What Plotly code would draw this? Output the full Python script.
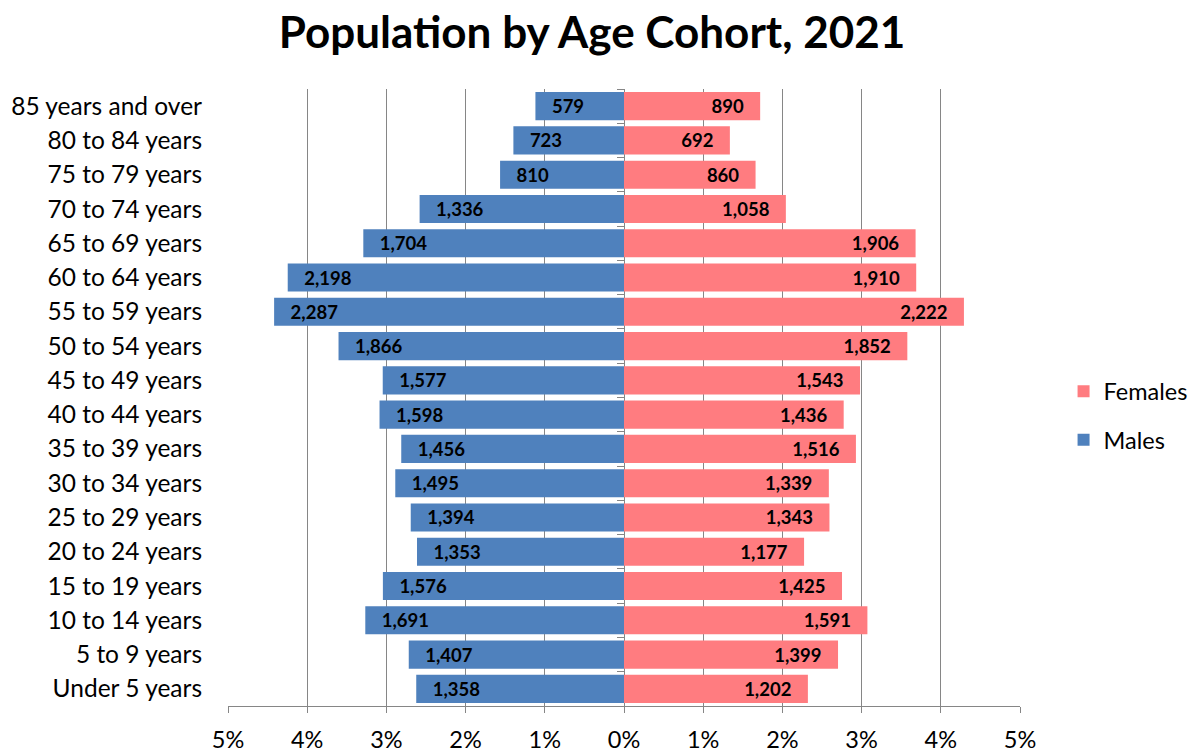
import plotly.graph_objects as go

age_groups = ["Under 5 years", "5 to 9 years", "10 to 14 years", "15 to 19 years",
              "20 to 24 years", "25 to 29 years", "30 to 34 years", "35 to 39 years",
              "40 to 44 years", "45 to 49 years", "50 to 54 years", "55 to 59 years",
              "60 to 64 years", "65 to 69 years", "70 to 74 years", "75 to 79 years",
              "80 to 84 years", "85 years and over"]
males = [1358, 1407, 1691, 1576, 1353, 1394, 1495, 1456, 1598, 1577, 1866, 2287,
         2198, 1704, 1336, 810, 723, 579]
females = [1202, 1399, 1591, 1425, 1177, 1343, 1339, 1516, 1436, 1543, 1852, 2222,
           1910, 1906, 1058, 860, 692, 890]
tick_vals = [-5, -4, -3, -2, -1, 0, 1, 2, 3, 4, 5]
tick_text = ["5%", "4%", "3%", "2%", "1%", "0%", "1%", "2%", "3%", "4%", "5%"]

total = sum(males) + sum(females)
male_pct = [-m / total * 100 for m in males]
female_pct = [f / total * 100 for f in females]

FONT = "Lato"
GRID = "#868686"
PAD = "\u00a0\u00a0\u00a0"
fig = go.Figure()
fig.add_trace(go.Bar(
    y=age_groups, x=female_pct, orientation="h", name="Females",
    marker=dict(color="#FF7C80", line=dict(width=0)),
    text=[f"{v:,}" + PAD for v in females], textposition="inside", insidetextanchor="end",
    textfont=dict(family=FONT, size=18.5, color="black", weight="bold"),
    legendgroup="f", hoverinfo="skip", yaxis="y2"))
fig.add_trace(go.Bar(
    y=age_groups, x=male_pct, orientation="h", name="Males",
    marker=dict(color="#4F81BD", line=dict(width=0)),
    text=[PAD + f"{v:,}" for v in males], textposition="inside", insidetextanchor="end",
    textfont=dict(family=FONT, size=18.5, color="black", weight="bold"),
    legendgroup="m", hoverinfo="skip", yaxis="y"))

fig.update_layout(
    width=1196, height=752,
    barmode="relative", bargap=0.18,
    paper_bgcolor="white", plot_bgcolor="white",
    margin=dict(l=228, r=176, t=89, b=46, autoexpand=False),
    font=dict(family=FONT, size=20, color="black"),
    title=dict(text="<b>Population by Age Cohort, 2021</b>", x=0.495, xanchor="center",
               y=0.957, yanchor="middle", font=dict(family=FONT, size=44, color="black")),
    legend=dict(x=1.055, y=0.47, xanchor="left", yanchor="middle",
                font=dict(family=FONT, size=23.5), tracegroupgap=15,
                traceorder="grouped", bgcolor="rgba(0,0,0,0)"),
    xaxis=dict(range=[-5, 5], tickvals=tick_vals, ticktext=tick_text,
               showgrid=True, gridcolor=GRID, gridwidth=1,
               zeroline=True, zerolinecolor=GRID, zerolinewidth=1,
               showline=True, linecolor=GRID, linewidth=1,
               ticks="outside", ticklen=6, tickcolor=GRID, ticklabelstandoff=7,
               tickfont=dict(size=23.5), fixedrange=True, automargin=False),
    yaxis=dict(categoryorder="array", categoryarray=age_groups,
               showgrid=False, showline=False, ticks="", ticklabelstandoff=25,
               tickfont=dict(size=24.5), fixedrange=True, automargin=False),
    yaxis2=dict(overlaying="y", matches="y", anchor="free", position=0.5, side="left",
                showticklabels=False, ticks="outside", ticklen=7, tickcolor=GRID,
                tickson="boundaries", showgrid=False, showline=False, zeroline=False,
                categoryorder="array", categoryarray=age_groups, fixedrange=True,
                automargin=False),
)

fig.write_html("out.html", config={"displayModeBar": False},
               post_script="document.body.style.margin='0';document.body.style.overflow='hidden';")
